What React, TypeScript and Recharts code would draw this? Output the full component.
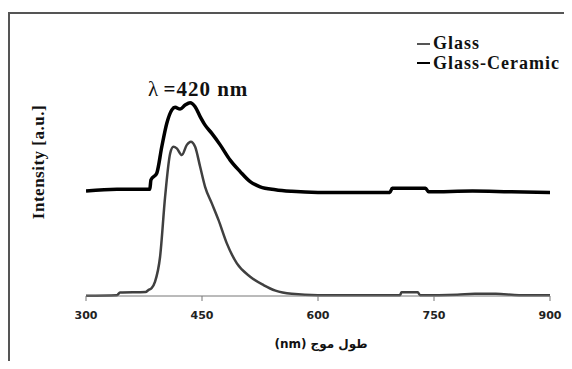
import React from "react";
import { LineChart, Line, XAxis, YAxis } from "recharts";

// Glass (grey curve): wavelength (nm) and intensity (a.u., 0-100 of axis height)
const glassWavelength = [300, 340, 344, 377, 381, 385, 389.3, 395.8, 402.3, 408.8, 413, 417.4, 423.9, 430.4, 435.5, 441.1, 447.6, 454, 462.7, 471.3, 482.1, 495.1, 512.3, 529.5, 545, 566, 600, 706, 708, 729, 732, 780, 803, 830, 860, 900];
const glassIntensity = [0.1, 0.3, 1.3, 1.5, 2.3, 3.0, 5.4, 14.7, 37.2, 53.4, 55.9, 55.3, 52.8, 56.6, 57.8, 55.9, 48.4, 40.9, 34.7, 28.5, 19.7, 12.2, 7.2, 4.1, 2.0, 0.8, 0.3, 0.3, 1.4, 1.4, 0.3, 0.5, 0.8, 0.8, 0.3, 0.3];

// Glass-Ceramic (black curve)
const gcWavelength = [300, 340, 382.5, 384, 391.5, 398, 404.5, 411, 415.2, 421.7, 428.2, 434.6, 441.1, 447.6, 454, 462.7, 473.5, 486.4, 499.3, 512.3, 525.2, 545, 566, 600, 693, 696, 739, 743, 800, 850, 900];
const gcIntensity = [39.3, 40, 40.0, 43.5, 46.0, 55.9, 64.7, 69.7, 70.7, 70.0, 71.5, 72.4, 70.9, 67.2, 64.0, 60.9, 56.6, 50.9, 46.6, 42.8, 40.9, 39.8, 39.2, 38.8, 38.8, 40.4, 40.4, 39.0, 39.3, 39.0, 38.8];

const xTicks = [300, 450, 600, 750, 900];
const seriesNames = ["Glass", "Glass-Ceramic"];
const peakLabel = "=420 nm";
const xTitle = "طول موج (nm)";
const yTitle = "Intensity [a.u.]";

const glassData = glassWavelength.map((x, i) => ({ x, y: glassIntensity[i] }));
const gcData = gcWavelength.map((x, i) => ({ x, y: gcIntensity[i] }));

const W = 564;
const H = 353;

export default function App() {
  return (
    <div style={{ position: "relative", width: W, height: H, overflow: "hidden", background: "#fff" }}>
      <div
        style={{
          position: "absolute",
          left: 0,
          top: 4,
          width: W + 20,
          height: H + 20,
          borderLeft: "2px solid #555",
          borderTop: "2px solid #555",
          boxSizing: "border-box",
        }}
      />
      <div style={{ position: "absolute", left: 0, top: 0 }}>
        <LineChart width={W} height={H} margin={{ top: 21, left: 78, right: 22, bottom: 35 }}>
          <XAxis
            type="number"
            dataKey="x"
            domain={[300, 900]}
            ticks={xTicks}
            height={30}
            tickSize={5}
            tickMargin={10}
            stroke="#777"
            tick={{ fill: "#222", fontFamily: "DejaVu Sans", fontWeight: "bold", fontSize: 11 }}
            allowDataOverflow
          />
          <YAxis type="number" domain={[0, 100]} width={0} tick={false} tickLine={false} stroke="#777" />
          <Line
            data={gcData}
            dataKey="y"
            type="monotone"
            stroke="#000"
            strokeWidth={3.5}
            dot={false}
            isAnimationActive={false}
          />
          <Line
            data={glassData}
            dataKey="y"
            type="monotone"
            stroke="#404040"
            strokeWidth={2.5}
            dot={false}
            isAnimationActive={false}
          />
        </LineChart>
      </div>
      <svg width={W} height={H} style={{ position: "absolute", left: 0, top: 0, pointerEvents: "none" }}>
        <text x={140} y={88} fontFamily="Liberation Serif" fontSize={21} fill="#111">
          <tspan>λ </tspan>
          <tspan fontWeight="bold" letterSpacing={1}>{peakLabel}</tspan>
        </text>
        <line x1={409} x2={422} y1={36} y2={36} stroke="#555" strokeWidth={2} />
        <text x={425} y={41} fontFamily="Liberation Serif" fontWeight="bold" fontSize={18} letterSpacing={1} fill="#111">
          {seriesNames[0]}
        </text>
        <line x1={409} x2={422} y1={55} y2={55} stroke="#000" strokeWidth={2} />
        <text x={425} y={61} fontFamily="Liberation Serif" fontWeight="bold" fontSize={18} letterSpacing={1} fill="#111">
          {seriesNames[1]}
        </text>
        <text
          x={30}
          y={154}
          transform="rotate(-90 30 154)"
          textAnchor="middle"
          dominantBaseline="central"
          fontFamily="Liberation Serif"
          fontWeight="bold"
          fontSize={17}
          letterSpacing={0.5}
          fill="#111"
        >
          {yTitle}
        </text>
        <text
          x={313}
          y={340}
          textAnchor="middle"
          direction="rtl"
          fontFamily="DejaVu Sans"
          fontWeight="bold"
          fontSize={12}
          fill="#111"
        >
          {xTitle}
        </text>
      </svg>
    </div>
  );
}
